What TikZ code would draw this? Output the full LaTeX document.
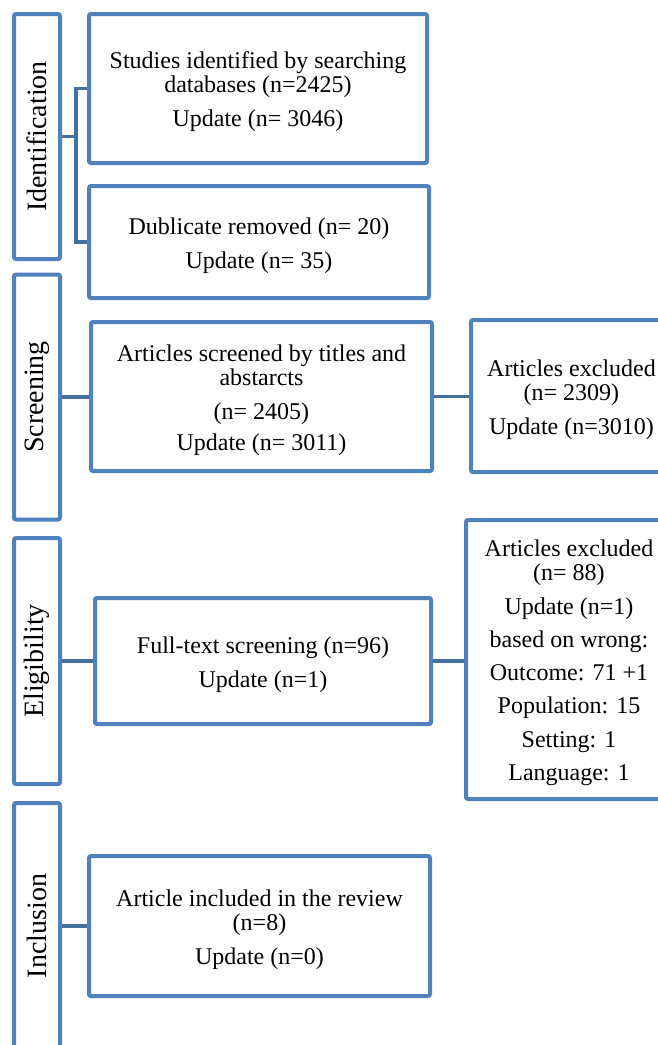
\documentclass[tikz,border=0pt]{standalone}
\usepackage{fontspec}
\setmainfont{Liberation Serif}
\definecolor{boxblue}{HTML}{4F81BD}
\definecolor{linkblue}{HTML}{41719C}
% taller first-line strut, lowers the text block a little inside its frame
\newcommand{\firstline}{\rule{0pt}{24pt}}
\begin{document}
\begin{tikzpicture}[x=1pt,y=-1pt,
  box/.style={draw=boxblue,line width=4pt,rounded corners=2pt,fill=white,
    align=center,inner sep=0pt,font=\fontsize{24}{24}\selectfont},
  phase/.style={box,rotate=90,font=\fontsize{28}{28}\selectfont},
  conn/.style={draw=linkblue,line width=3.5pt}]
\useasboundingbox (0,0) rectangle (657,1045);
\fill[white] (0,0) rectangle (657,1045);

% stage labels along the left edge
\node[phase,minimum width=245pt,minimum height=46pt] (idp) at (37,136.5) {Identification};
\node[phase,minimum width=245pt,minimum height=46pt] (scp) at (37,397) {Screening};
\node[phase,minimum width=246pt,minimum height=46pt] (elp) at (37,661) {Eligibility};
\node[phase,minimum width=246pt,minimum height=46pt] (inp) at (37,926) {Inclusion};

% main flow boxes
\node[box,minimum width=338pt,minimum height=149pt] (b1) at (258,88.5)
  {\firstline Studies identified by searching\\databases (n=2425)\\[10pt]Update (n= 3046)};
\node[box,minimum width=340pt,minimum height=112pt] (b2) at (259,242)
  {\firstline Dublicate removed (n= 20)\\[10pt]Update (n= 35)};
\node[box,minimum width=341pt,minimum height=149pt] (b3) at (261.5,396.5)
  {\firstline Articles screened by titles and\\abstarcts\\[10pt](n= 2405)\\[7pt]Update (n= 3011)};
\node[box,minimum width=336pt,minimum height=126pt] (b4) at (263,661)
  {\firstline Full-text screening (n=96)\\[10pt]Update (n=1)};
\node[box,minimum width=341pt,minimum height=140pt] (b5) at (259.5,926)
  {\firstline Article included in the review\\(n=8)\\[10pt]Update (n=0)};

% exclusion boxes on the right
\node[box,minimum width=201pt,minimum height=152pt,anchor=west] (ex1) at (469,396)
  {\firstline Articles excluded\\(n= 2309)\\[10pt]Update (n=3010)};
\node[box,minimum width=206pt,minimum height=279pt,anchor=west] (ex2) at (464,659.5)
  {\firstline Articles excluded\\(n= 88)\\[10pt]Update (n=1)\\[9pt]based on wrong:\\[9pt]Outcome: 71 +1\\[9pt]Population: 15\\[10pt]Setting: 1\\[9pt]Language: 1};

% connectors
\coordinate (j) at (76,136.5);
\draw[conn] (idp.south) -- (j);
\draw[conn] (b1.west) -| (j) |- (b2.west);
\draw[conn] (scp.south) -- (scp.south -| b3.west);
\draw[conn] (b3.east) -- (b3.east -| ex1.west);
\draw[conn] (elp.south) -- (elp.south -| b4.west);
\draw[conn] (b4.east) -- (b4.east -| ex2.west);
\draw[conn] (b5.west -| inp.south) -- (b5.west);
\end{tikzpicture}
\end{document}
